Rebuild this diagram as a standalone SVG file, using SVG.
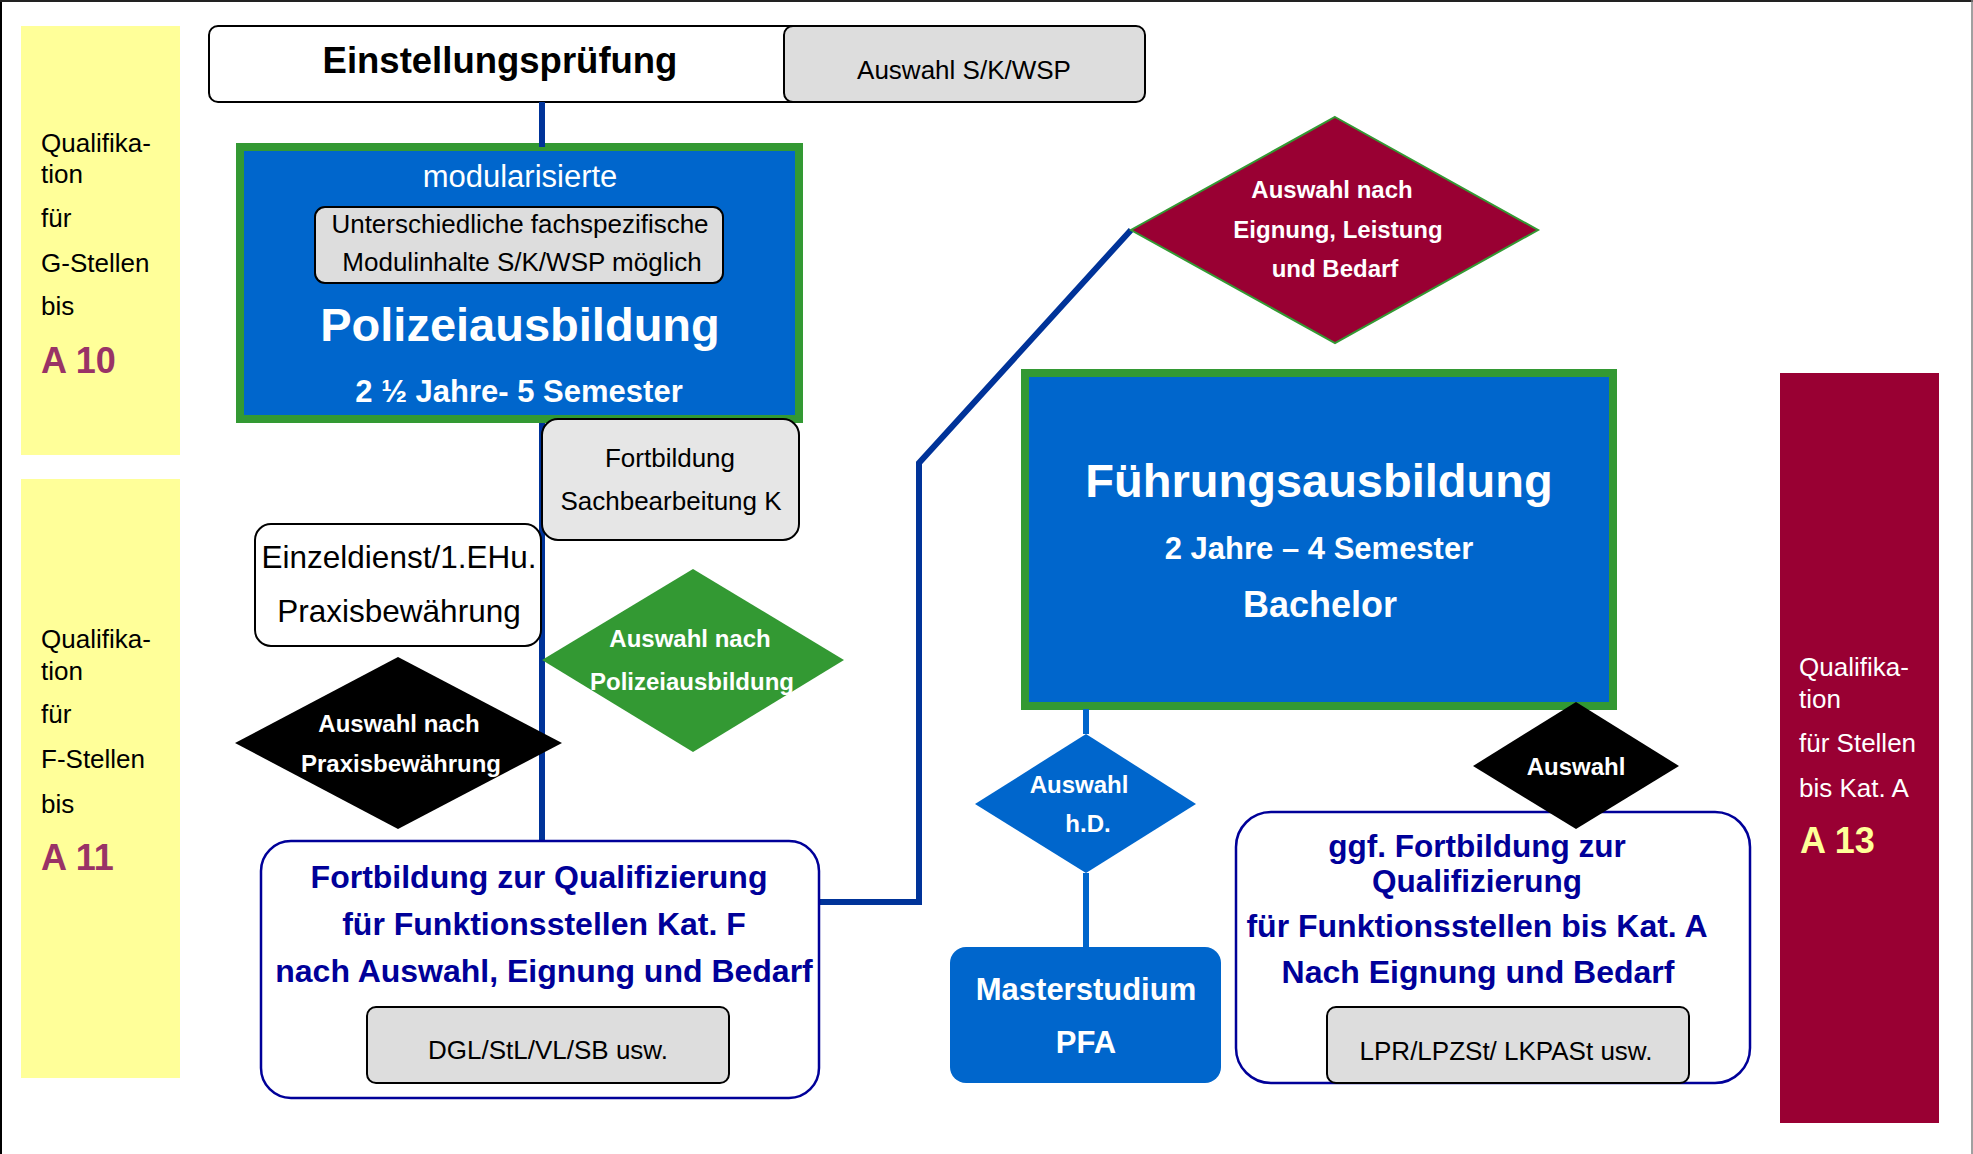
<svg xmlns="http://www.w3.org/2000/svg" width="1973" height="1154" viewBox="0 0 1973 1154">
<style>
text{font-family:"Liberation Sans",Arial,Helvetica,sans-serif;}
.m{text-anchor:middle;}
.b{font-weight:bold;}
.s26{font-size:26px;}
.w{fill:#FFFFFF;}
.k{fill:#000000;}
.nv{fill:#000099;}
.gray{fill:#DDDDDD;stroke:#000000;stroke-width:2;}
.white{fill:#FFFFFF;stroke:#000000;stroke-width:2;}
.nvbox{fill:#FFFFFF;stroke:#000099;stroke-width:2.5;}
.big{fill:#0066CC;stroke:#339933;stroke-width:8;}
.conn{fill:none;stroke:#003399;stroke-width:6;}
.conn2{fill:none;stroke:#0066CC;stroke-width:6;}
.yel{fill:#FFFF99;}
</style>
<rect x="0" y="0" width="1973" height="1154" fill="#FFFFFF"/>
<g id="frame">
<line x1="1" y1="0" x2="1" y2="1154" stroke="#000000" stroke-width="2"/>
<line x1="0" y1="1" x2="1973" y2="1" stroke="#222222" stroke-width="2"/>
<line x1="1972" y1="0" x2="1972" y2="1154" stroke="#808080" stroke-width="1.5"/>
</g>
<g id="band-g">
<rect class="yel" x="21" y="26" width="159" height="429"/>
<text class="s26" x="41" y="152">Qualifika-</text>
<text class="s26" x="41" y="183">tion</text>
<text class="s26" x="41" y="227">für</text>
<text class="s26" x="41" y="272">G-Stellen</text>
<text class="s26" x="41" y="315">bis</text>
<text class="b" x="41" y="373" font-size="36" fill="#993366">A 10</text>
</g>
<g id="band-f">
<rect class="yel" x="21" y="479" width="159" height="599"/>
<text class="s26" x="41" y="648">Qualifika-</text>
<text class="s26" x="41" y="680">tion</text>
<text class="s26" x="41" y="723">für</text>
<text class="s26" x="41" y="768">F-Stellen</text>
<text class="s26" x="41" y="813">bis</text>
<text class="b" x="41" y="870" font-size="36" fill="#993366">A 11</text>
</g>
<g id="band-a">
<rect x="1780" y="373" width="159" height="750" fill="#990033"/>
<text class="s26 w" x="1799" y="676">Qualifika-</text>
<text class="s26 w" x="1799" y="708">tion</text>
<text class="s26 w" x="1799" y="752">für Stellen</text>
<text class="s26 w" x="1799" y="797">bis Kat. A</text>
<text class="b" x="1800" y="853" font-size="36" fill="#FFFF99">A 13</text>
</g>
<g id="einstellungspruefung">
<rect class="white" x="209" y="26" width="600" height="76" rx="9"/>
<text class="m b" x="500" y="73" font-size="36.5">Einstellungsprüfung</text>
</g>
<g id="auswahl-skwsp">
<rect class="gray" x="784" y="26" width="361" height="76" rx="9"/>
<text class="m s26" x="964" y="79">Auswahl S/K/WSP</text>
</g>
<g id="polizeiausbildung">
<rect class="big" x="240" y="147" width="559" height="272"/>
<text class="m w" x="520" y="187" font-size="31">modularisierte</text>
<rect class="gray" x="315" y="207" width="408" height="76" rx="10"/>
<text class="m s26" x="520" y="233">Unterschiedliche fachspezifische</text>
<text class="m s26" x="522" y="271">Modulinhalte S/K/WSP möglich</text>
<text class="m b w" x="520" y="341" font-size="47">Polizeiausbildung</text>
<text class="m b w" x="519" y="402" font-size="31">2 ½ Jahre- 5 Semester</text>
</g>
<g id="fuehrungsausbildung">
<rect class="big" x="1025" y="373" width="588" height="333"/>
<text class="m b w" x="1319" y="497" font-size="47">Führungsausbildung</text>
<text class="m b w" x="1319" y="559" font-size="31">2 Jahre – 4 Semester</text>
<text class="m b w" x="1320" y="617" font-size="36">Bachelor</text>
</g>
<g id="connectors">
<path class="conn" d="M542 102 V147"/>
<path class="conn" d="M542 423 V841"/>
<path class="conn" d="M820 902 H919 V463 L1131 230"/>
<path class="conn2" d="M1086 709 V734"/>
<path class="conn2" d="M1086 873 V947"/>
</g>
<g id="sachbearbeitung">
<rect x="542" y="419" width="257" height="121" rx="16" fill="#E6E6E6" stroke="#000000" stroke-width="2"/>
<text class="m s26" x="670" y="467">Fortbildung</text>
<text class="m s26" x="671" y="510">Sachbearbeitung K</text>
</g>
<g id="einzeldienst">
<rect class="white" x="255" y="524" width="286" height="122" rx="16"/>
<text class="m" x="399" y="568" font-size="31.5">Einzeldienst/1.EHu.</text>
<text class="m" x="399" y="622" font-size="31.5">Praxisbewährung</text>
</g>
<g id="auswahl-polizeiausbildung">
<polygon points="693,569 844,660 693,752 542,660" fill="#339933"/>
<text class="m b w" x="690" y="647" font-size="24">Auswahl nach</text>
<text class="m b w" x="692" y="690" font-size="24">Polizeiausbildung</text>
</g>
<g id="auswahl-praxis">
<polygon points="398,657 562,743 398,829 235,743" fill="#000000"/>
<text class="m b w" x="399" y="732" font-size="24">Auswahl nach</text>
<text class="m b w" x="401" y="772" font-size="24">Praxisbewährung</text>
</g>
<g id="fortbildung-kat-f">
<rect class="nvbox" x="261" y="841" width="558" height="257" rx="30"/>
<text class="m b nv" x="539" y="888" font-size="32">Fortbildung zur Qualifizierung</text>
<text class="m b nv" x="544" y="935" font-size="32">für Funktionsstellen Kat. F</text>
<text class="m b nv" x="544" y="982" font-size="32">nach Auswahl, Eignung und Bedarf</text>
<rect class="gray" x="367" y="1007" width="362" height="76" rx="9"/>
<text class="m s26" x="548" y="1059">DGL/StL/VL/SB usw.</text>
</g>
<g id="auswahl-eignung">
<polygon points="1335,117 1538,230 1335,343 1131,230" fill="#990033" stroke="#339933" stroke-width="2"/>
<text class="m b w" x="1332" y="198" font-size="24">Auswahl nach</text>
<text class="m b w" x="1338" y="238" font-size="24">Eignung, Leistung</text>
<text class="m b w" x="1335" y="277" font-size="24">und Bedarf</text>
</g>
<g id="auswahl-hd">
<polygon points="1086,734 1196,804 1086,873 975,804" fill="#0066CC"/>
<text class="m b w" x="1079" y="793" font-size="24">Auswahl</text>
<text class="m b w" x="1088" y="832" font-size="24">h.D.</text>
</g>
<g id="masterstudium">
<rect x="950" y="947" width="271" height="136" rx="16" fill="#0066CC"/>
<text class="m b w" x="1086" y="1000" font-size="31">Masterstudium</text>
<text class="m b w" x="1086" y="1053" font-size="31">PFA</text>
</g>
<g id="fortbildung-kat-a">
<rect class="nvbox" x="1236" y="812" width="514" height="271" rx="35"/>
<text class="m b nv" x="1477" y="857" font-size="31.5">ggf. Fortbildung zur</text>
<text class="m b nv" x="1477" y="892" font-size="31.5">Qualifizierung</text>
<text class="m b nv" x="1477" y="937" font-size="32">für Funktionsstellen bis Kat. A</text>
<text class="m b nv" x="1478" y="983" font-size="32">Nach Eignung und Bedarf</text>
<rect class="gray" x="1327" y="1007" width="362" height="76" rx="9"/>
<text class="m s26" x="1506" y="1060">LPR/LPZSt/ LKPASt usw.</text>
</g>
<g id="auswahl-kat-a">
<polygon points="1576,702 1679,766 1576,829 1473,766" fill="#000000"/>
<text class="m b w" x="1576" y="775" font-size="24">Auswahl</text>
</g>
</svg>
